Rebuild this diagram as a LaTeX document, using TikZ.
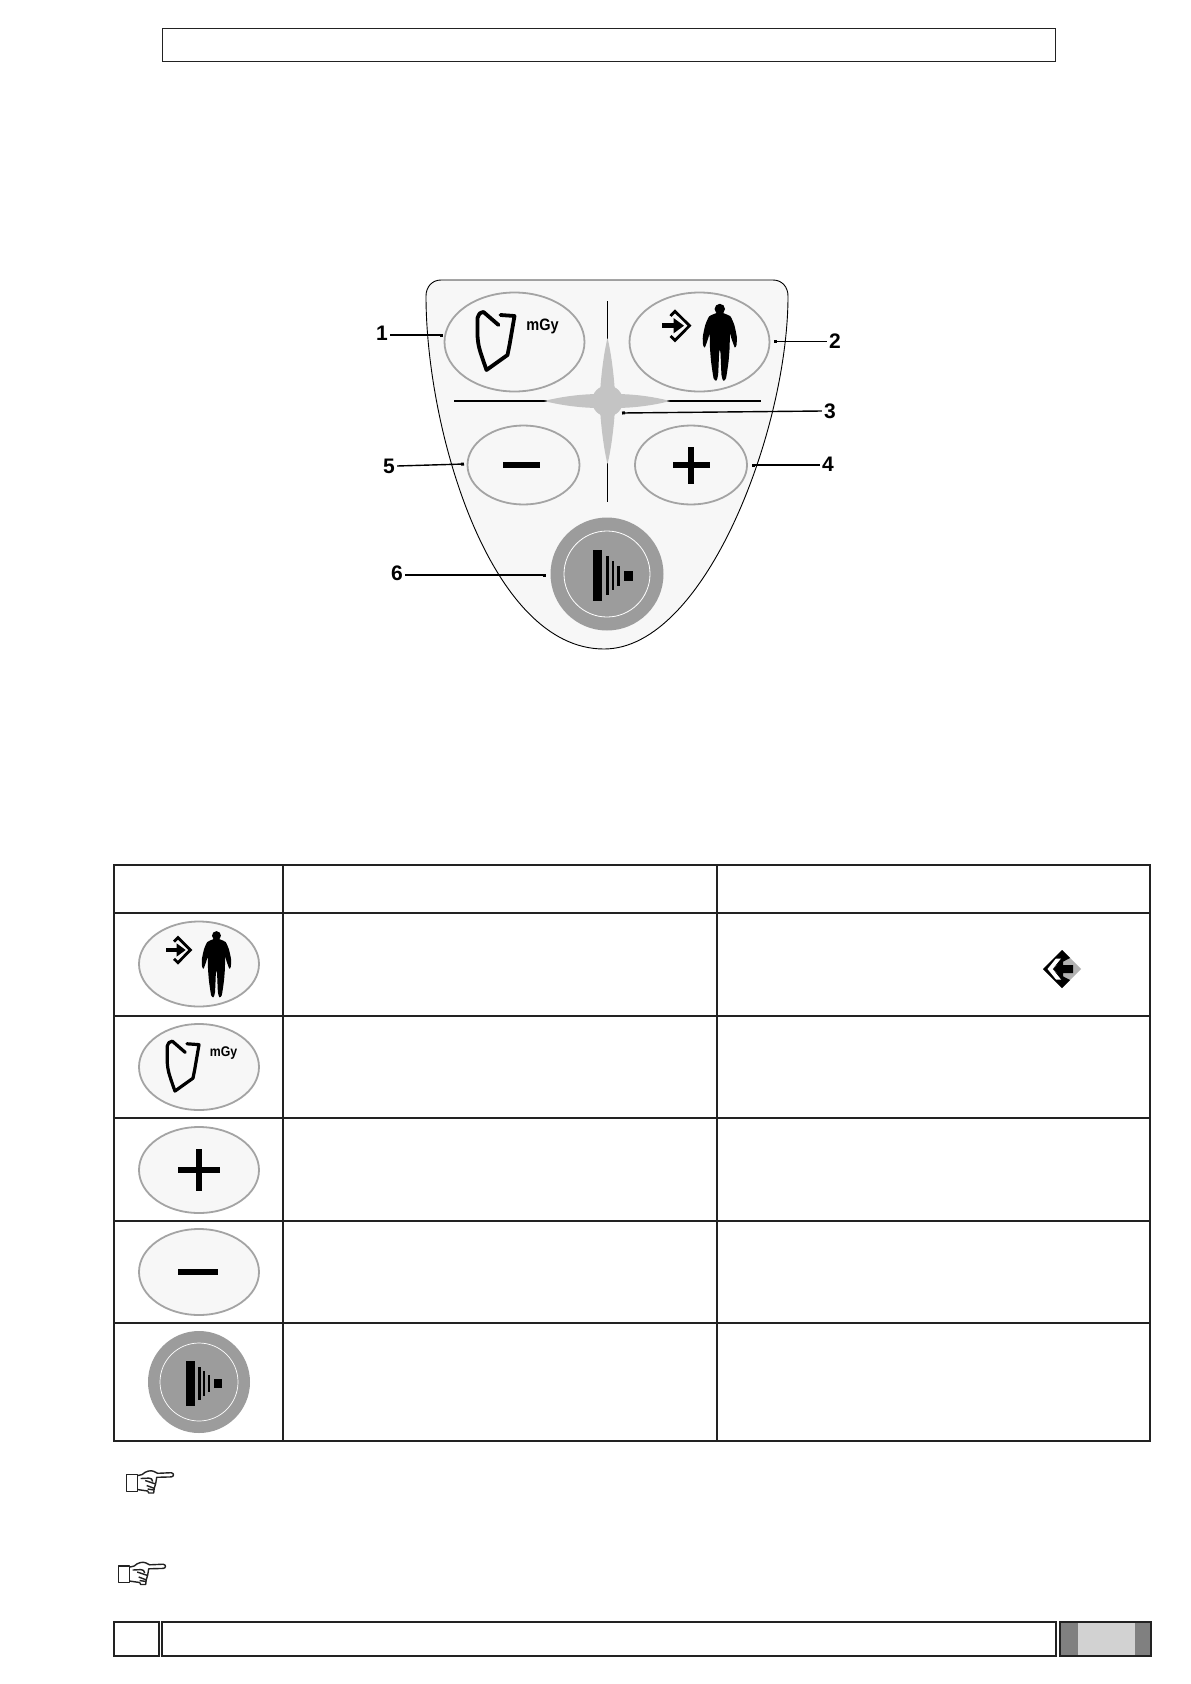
\documentclass[tikz,border=0pt]{standalone}
\usepackage{fontspec}
\setmainfont{Liberation Sans}
\usetikzlibrary{arrows.meta,shapes.geometric}
\definecolor{ink}{HTML}{222222}
\definecolor{panelfill}{HTML}{F7F7F7}
\definecolor{rimgray}{HTML}{A4A4A4}
\definecolor{btngray}{HTML}{9C9C9C}
\definecolor{stargray}{HTML}{C4C4C4}
\definecolor{tabdark}{HTML}{808080}
\definecolor{tablight}{HTML}{D2D2D2}
\tikzset{
  box/.style={draw=ink,line width=1.3pt,fill=white},
  boxthick/.style={draw=ink,line width=2.1pt},
  keyoval/.style={ellipse,draw=rimgray,line width=1.8pt,fill=panelfill,inner sep=0pt},
  callout/.style={font=\bfseries\fontsize{21}{21}\selectfont,inner sep=2pt,text=black},
  leader/.style={draw=black,line width=1.4pt,-{Square[length=3pt,width=3pt]}},
  thinrule/.style={draw=black,line width=1.3pt},
  pics/doseicon/.style={code={
    \draw[black,line width=#1,line join=round,line cap=round]
      (-16,-17) -- (-31,-30) .. controls (-35,-29) .. (-37,-24) -- (-37,-6) .. controls (-36,5) .. (-28,28)
      -- (-7,13) -- (-5,3) -- (0,-26) -- (-14,-27);
  }},
  pics/enterarrow/.style={code={
    \draw[black,line width=2.8pt,line join=miter]
      (-29,-26) -- (-24.5,-30.7) -- (-10,-16.3) -- (-24.5,-1.6) -- (-29,-6);
    \fill[black] (-38,-19) rectangle (-26,-13.6);
    \fill[black] (-26,-24) -- (-15.5,-16.3) -- (-26,-8.6) -- cycle;
  }},
  pics/person/.style={code={
    \fill[black] (0,-33) circle (5.2);
    \fill[black] plot[smooth cycle,tension=0.35] coordinates {
      (0,-30) (4.5,-28.5) (10.7,-25.5) (14.5,-17) (17,-5.3) (16.7,3) (15,5.5)
      (11.8,-3) (10.2,-8) (9.8,6) (8.7,19.7) (6.2,36.3) (3.5,38.7) (1.7,33) (0.7,11.3) (0,8)
      (-0.7,11.3) (-1.7,33) (-3.5,38.7) (-6.2,36.3) (-8.7,19.7) (-9.8,6) (-10.2,-8) (-11.8,-3)
      (-15,5.5) (-16.7,3) (-17,-5.3) (-14.5,-17) (-10.7,-25.5) (-4.5,-28.5)};
  }},
  pics/beam/.style={code={
    \fill[black] (-14.3,-23.6) rectangle (-5,27);
    \fill[black] (-1.3,-17.6) rectangle (2,21);
    \fill[black] (4.7,-12.6) rectangle (7.3,16);
    \fill[black] (10.3,-8.3) rectangle (12.7,11.7);
    \fill[black] (16.7,-3.3) rectangle (25.7,6.7);
  }},
  pics/plusicon/.style={code={
    \fill[black] (-18.5,-2.7) rectangle (18.5,2.7);
    \fill[black] (-2.7,-18.5) rectangle (2.7,18.5);
  }},
  pics/minusicon/.style={code={
    \fill[black] (-18.7,-2.9) rectangle (18.7,2.9);
  }},
  pics/pointer/.style={code={
    \begin{scope}[line width=1.4pt,draw=ink,line join=round]
    \draw (0,0) rectangle (10.5,16.7);
    \draw (10.5,1.2) -- (15.5,0) .. controls (19,-3.5) and (24,-4.5) .. (27,-3.2)
      .. controls (28.5,-1.8) .. (31,-1.2) -- (44.5,-1.8) .. controls (47.5,-1.5) and (47.5,2.2) .. (44.5,2.4) -- (30,2.8)
      .. controls (29,6) .. (29,9) -- (27.5,14) -- (27,18.5) -- (22,18.5) -- (21,16.5) -- (10.5,15);
    \draw (14,4) -- (22,3.6) .. controls (25,4) .. (26,7);
    \draw (18.5,6) -- (29,9.5);
    \draw (20,11) -- (28,14);
    \draw (21,14.5) -- (27.3,15.5);
    \end{scope}
  }}
}
\begin{document}
\begin{tikzpicture}[x=1pt,y=-1pt]
\useasboundingbox (0,0) rectangle (1191,1684);
\fill[white] (0,0) rectangle (1191,1684);
% header box
\node[box,line width=1pt,minimum width=893pt,minimum height=33pt,inner sep=0pt] (headerbox) at (608.5,44.5) {};

% control panel
\draw[black,line width=0.9pt,fill=panelfill]
  (441,280) -- (773,280) .. controls (782,280) and (788,287) .. (788,296)
  .. controls (788,430) and (705,649) .. (604,649)
  .. controls (490,649) and (426,430) .. (426,296)
  .. controls (426,287) and (432,280) .. (441,280) -- cycle;

% cross lines and star
\draw[thinrule] (454,401) -- (761,401);
\draw[thinrule] (607.5,301) -- (607.5,502);
\fill[stargray] (607.5,338) .. controls (611,352) and (614,375) .. (615,394)
  .. controls (635,394) and (655,397) .. (670,401)
  .. controls (655,405) and (635,408) .. (615,408)
  .. controls (614,427) and (611,450) .. (607.5,464)
  .. controls (604,450) and (601,427) .. (600,408)
  .. controls (580,408) and (560,405) .. (544,401)
  .. controls (560,397) and (580,394) .. (600,394)
  .. controls (601,375) and (604,352) .. (607.5,338) -- cycle;
\node[circle,fill=stargray,minimum size=31pt,inner sep=0pt] (star) at (607.5,401) {};

% panel keys
\node[keyoval,minimum width=140pt,minimum height=99pt] (keydose) at (514.5,342) {};
\node[keyoval,minimum width=140pt,minimum height=99pt] (keyperson) at (699.5,342) {};
\node[keyoval,minimum width=112pt,minimum height=79pt] (keyminus) at (523.5,465) {};
\node[keyoval,minimum width=112pt,minimum height=79pt] (keyplus) at (691,465) {};
\node[circle,fill=btngray,minimum size=113pt,inner sep=0pt] (keybeam) at (607,574) {};
\node[circle,draw=white,line width=0.8pt,minimum size=86pt,inner sep=0pt] (keybeamring) at (607,574) {};

\pic at (keydose.center) {doseicon={3.8pt}};
\node[inner sep=0pt,xscale=0.88,transform shape,font=\bfseries\fontsize{16.5}{16.5}\selectfont] (mgypanel) at (542.5,326) {mGy};
\pic at (keyperson.center) {enterarrow};
\pic at ([xshift=20.3pt]keyperson.center) {person};
\pic at (keyplus.center) {plusicon};
\pic at ([xshift=-2pt]keyminus.center) {minusicon};
\pic at (keybeam.center) {beam};

% callouts
\node[callout] (l1) at (382,333) {1};
\node[callout] (l2) at (835,341) {2};
\node[callout] (l3) at (830,411) {3};
\node[callout] (l4) at (828,464) {4};
\node[callout] (l5) at (389,466) {5};
\node[callout] (l6) at (397,573) {6};
\coordinate (t1) at (443,335);
\coordinate (t2) at (774,341.7);
\coordinate (t3) at (622,413);
\coordinate (t4) at (752,465);
\coordinate (t5) at (464,464);
\coordinate (t6) at (546,575);
\draw[leader] (l1.east |- t1) -- (t1);
\draw[leader] (l2.west |- t2) -- (t2);
\draw[leader] (l3.west) -- (t3);
\draw[leader] (l4.west |- t4) -- (t4);
\draw[leader] (l5.east) -- (t5);
\draw[leader] (l6.east |- t6) -- (t6);

% table
\draw[boxthick] (114,865) rectangle (1150,1441);
\draw[boxthick] (114,913) -- (1150,913);
\draw[boxthick] (114,1016) -- (1150,1016);
\draw[boxthick] (114,1118) -- (1150,1118);
\draw[boxthick] (114,1221) -- (1150,1221);
\draw[boxthick] (114,1323) -- (1150,1323);
\draw[boxthick] (283,865) -- (283,1441);
\draw[boxthick] (717,865) -- (717,1441);

% table icons
\node[keyoval,minimum width=120pt,minimum height=85pt] (tabperson) at (199,964) {};
\begin{scope}[shift={(199,964)},scale=0.86]
  \pic[transform shape] {enterarrow};
  \pic[transform shape] at (20.3,0) {person};
\end{scope}
\node[keyoval,minimum width=120pt,minimum height=86pt] (tabdose) at (199,1067) {};
\begin{scope}[shift={(199,1067)},scale=0.86]
  \pic[transform shape] {doseicon={3.2pt}};
\end{scope}
\node[inner sep=0pt,xscale=0.88,transform shape,font=\bfseries\fontsize{14}{14}\selectfont] (mgytable) at (223.5,1053.5) {mGy};
\node[keyoval,minimum width=120pt,minimum height=86pt] (tabplus) at (199,1170) {};
\begin{scope}[shift={(199,1170)},scale=1.15]
  \pic[transform shape] {plusicon};
\end{scope}
\node[keyoval,minimum width=120pt,minimum height=86pt] (tabminus) at (199,1272) {};
\begin{scope}[shift={(198,1272)},scale=1.07]
  \pic[transform shape] {minusicon};
\end{scope}
\node[circle,fill=btngray,minimum size=102pt,inner sep=0pt] (tabbeam) at (199,1382) {};
\node[circle,draw=white,line width=0.7pt,minimum size=78pt,inner sep=0pt] (tabbeamring) at (199,1382) {};
\begin{scope}[shift={(199,1382)},scale=0.88]
  \pic[transform shape] {beam};
\end{scope}

% back-arrow symbol in table
\fill[tablight!85!black] (1062,950) -- (1081,969) -- (1062,988) -- (1043,969) -- cycle;
\fill[black] (1062,950) -- (1070,958) -- (1049,969) -- (1070,980) -- (1062,988) -- (1043,969) -- cycle;
\fill[white] (1056,958.5) -- (1061,958.5) -- (1052.5,969) -- (1061,979.5) -- (1056,979.5) -- (1047.5,969) -- cycle;
\fill[black] (1053,969) -- (1063,958.5) -- (1063,965) -- (1073,965) -- (1073,973) -- (1063,973) -- (1063,979.5) -- cycle;

% pointers
\pic at (126.7,1474.5) {pointer};
\pic at (118.7,1566) {pointer};

% footer
\node[box,boxthick,minimum width=45pt,minimum height=34pt,inner sep=0pt] (pagebox) at (136.5,1639) {};
\node[box,boxthick,minimum width=894pt,minimum height=34pt,inner sep=0pt] (footerbox) at (609,1639) {};
\fill[tabdark] (1060,1622) rectangle (1151,1656);
\fill[tablight] (1078,1623) rectangle (1135,1655);
\draw[boxthick] (1060,1622) rectangle (1151,1656);
\end{tikzpicture}
\end{document}
